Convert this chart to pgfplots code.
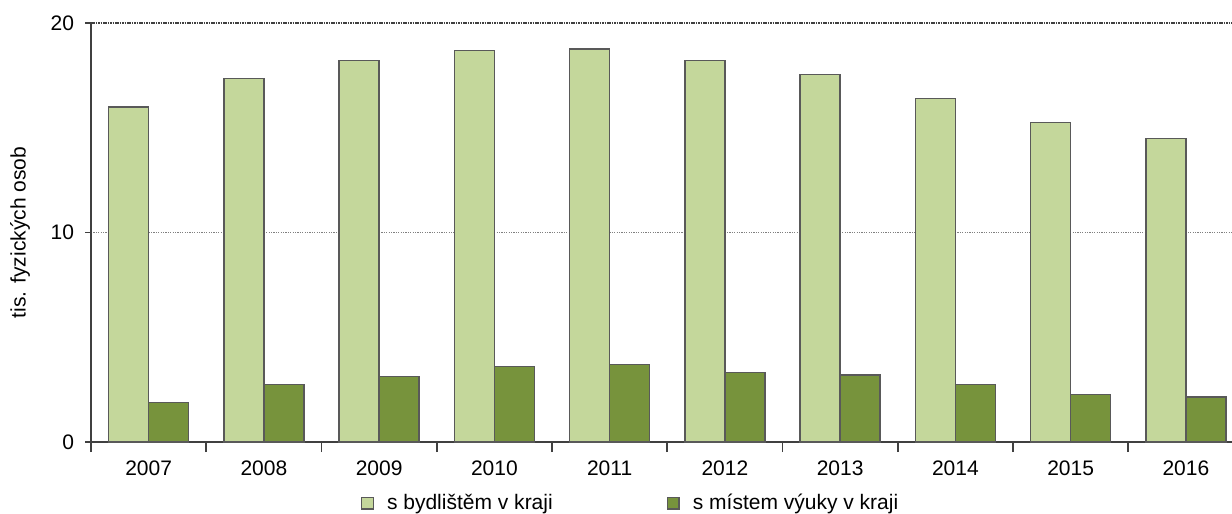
\documentclass[border=0pt]{standalone}
\usepackage{fontspec}
\setmainfont{Liberation Sans}
\usepackage{pgfplots}
\pgfplotsset{compat=1.18}

\definecolor{lightbar}{HTML}{C4D79B}
\definecolor{darkbar}{HTML}{77933C}
\definecolor{edge}{HTML}{595959}
\definecolor{axisline}{HTML}{404040}

\begin{document}
\begin{tikzpicture}
\begin{axis}[
  name=ax,
  scale only axis,
  width=570.5pt, height=209.5pt,
  ybar=0pt, bar width=20pt,
  xmin=-0.5, xmax=9.4,
  ymin=0, ymax=20,
  ytick={0,10,20},
  xtick={0,...,9},
  xticklabels={2007,2008,2009,2010,2011,2012,2013,2014,2015,2016},
  major x tick style={draw=none},
  extra x ticks={-0.5,0.5,...,8.5},
  extra x tick labels={},
  extra x tick style={major tick length=5pt, major x tick style={draw=axisline, line width=0.8pt}},
  axis x line*=bottom, axis y line*=left,
  axis line style={draw=axisline, line width=0.9pt, -},
  tick align=outside,
  major tick length=3pt,
  ytick style={draw=axisline, line width=0.8pt},
  ymajorgrids,
  major grid style={draw=gray, dash pattern=on 0.6pt off 0.6pt, line width=0.5pt},
  tick label style={font=\fontsize{10.5}{12}\selectfont},
  /pgf/number format/assume math mode=true,
  yticklabel style={xshift=-2pt},
  xticklabel style={yshift=-3pt},
  ylabel={tis. fyzických osob},
  every axis y label/.style={at={(axis description cs:-0.0622,0.5)}, rotate=90, anchor=center,
    font=\fontsize{10.5}{12}\selectfont},
  legend columns=2,
  legend style={draw=none, fill=none, inner sep=0pt, outer sep=0pt,
    at={(axis description cs:0.2366,-0.1146)}, anchor=north west,
    font=\fontsize{10.5}{12}\selectfont,
    /tikz/every odd column/.append style={column sep=4.5pt},
    /tikz/every even column/.append style={column sep=55pt}},
  legend image code/.code={\draw[#1, line width=0.75pt] (0pt,-2.9pt) rectangle (5.8pt,2.9pt);},
  clip=false,
]
\addplot[fill=lightbar, draw=edge, line width=0.75pt] coordinates {
  (0,16.00) (1,17.34) (2,18.20) (3,18.68) (4,18.77)
  (5,18.20) (6,17.53) (7,16.39) (8,15.24) (9,14.48)
};
\addplot[fill=darkbar, draw=edge, line width=0.75pt] coordinates {
  (0,1.88) (1,2.74) (2,3.12) (3,3.60) (4,3.69)
  (5,3.31) (6,3.21) (7,2.74) (8,2.26) (9,2.16)
};
\legend{s bydlištěm v kraji, s místem výuky v kraji}
\end{axis}
\draw[axisline, line width=1pt, dash pattern=on 0.8pt off 0.4pt] (ax.north west) -- ([xshift=5.5pt]ax.north east);
\pgfresetboundingbox
\path[use as bounding box] ([xshift=-45.5pt,yshift=-35.5pt]ax.south west) rectangle ([yshift=11.5pt]ax.north east);
\end{tikzpicture}
\end{document}
